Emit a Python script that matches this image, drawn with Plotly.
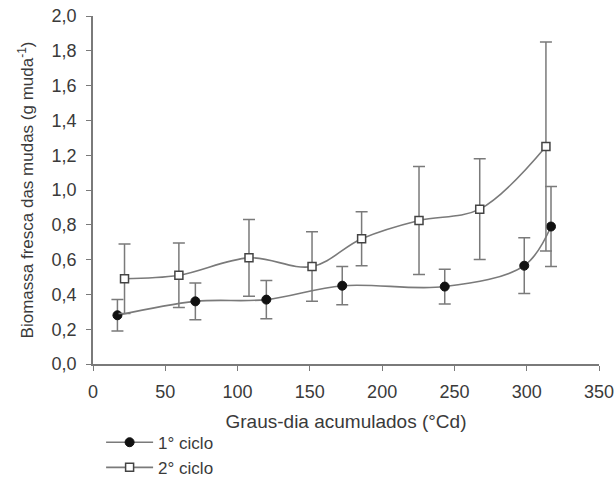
import plotly.graph_objects as go

# Data
x1 = [16.9, 70.8, 119.9, 172.4, 243.3, 298.3, 316.8]
y1 = [0.28, 0.36, 0.37, 0.45, 0.445, 0.565, 0.79]
e1 = [0.09, 0.105, 0.11, 0.11, 0.10, 0.16, 0.23]

x2 = [21.8, 59.4, 107.9, 151.5, 185.8, 225.5, 267.5, 313.3]
y2 = [0.49, 0.51, 0.61, 0.56, 0.72, 0.825, 0.89, 1.25]
e2 = [0.20, 0.185, 0.22, 0.20, 0.155, 0.31, 0.29, 0.60]

names = ["1° ciclo", "2° ciclo"]
xticks = [0, 50, 100, 150, 200, 250, 300, 350]
yticks = [0.0, 0.2, 0.4, 0.6, 0.8, 1.0, 1.2, 1.4, 1.6, 1.8, 2.0]
ytick_labels = [f"{v:.1f}".replace(".", ",") for v in yticks]

LINE = "#7a7a7a"
TEXT = "#3a3a3a"
FONT = "Liberation Sans, Arial, sans-serif"

fig = go.Figure()
fig.add_trace(go.Scatter(
    x=x1, y=y1, name=names[0], mode="lines+markers",
    line=dict(color=LINE, width=1.6, shape="spline", smoothing=1.0),
    marker=dict(symbol="circle", size=9, color="#111111",
                line=dict(color="#111111", width=1)),
    error_y=dict(type="data", array=e1, visible=True, color=LINE,
                 thickness=1.5, width=6),
))
fig.add_trace(go.Scatter(
    x=x2, y=y2, name=names[1], mode="lines+markers",
    line=dict(color=LINE, width=1.6, shape="spline", smoothing=1.0),
    marker=dict(symbol="square", size=8, color="white",
                line=dict(color="#444444", width=1.5)),
    error_y=dict(type="data", array=e2, visible=True, color=LINE,
                 thickness=1.5, width=6),
))

fig.update_layout(
    width=616, height=479,
    margin=dict(l=93, r=17, t=16, b=115, autoexpand=False),
    paper_bgcolor="white", plot_bgcolor="white",
    font=dict(family=FONT, color=TEXT, size=18),
    showlegend=True,
    legend=dict(
        x=0.016, y=-0.262, xanchor="left", yanchor="middle",
        bgcolor="rgba(0,0,0,0)", font=dict(size=17, color=TEXT),
        tracegroupgap=0, itemwidth=47,
    ),
    xaxis=dict(
        range=[0, 350], tickvals=xticks, ticktext=[str(v) for v in xticks],
        showgrid=False, zeroline=False, showline=True, linecolor=LINE,
        linewidth=1.5, ticks="outside", ticklen=5, tickcolor=LINE,
        tickfont=dict(size=18, color=TEXT), ticklabelstandoff=6,
        title=dict(text="Graus-dia acumulados (°Cd)",
                   font=dict(size=19, color=TEXT), standoff=13),
    ),
    yaxis=dict(
        range=[0, 2.0], tickvals=yticks, ticktext=ytick_labels,
        showgrid=False, zeroline=False, showline=True, linecolor=LINE,
        linewidth=1.5, ticks="outside", ticklen=5, tickcolor=LINE,
        tickfont=dict(size=18, color=TEXT), ticklabelstandoff=6,
        title=dict(text="Biomassa fresca das mudas (g muda<sup>-1</sup>)",
                   font=dict(size=17, color=TEXT), standoff=14),
    ),
)

fig.write_html("out.html")
